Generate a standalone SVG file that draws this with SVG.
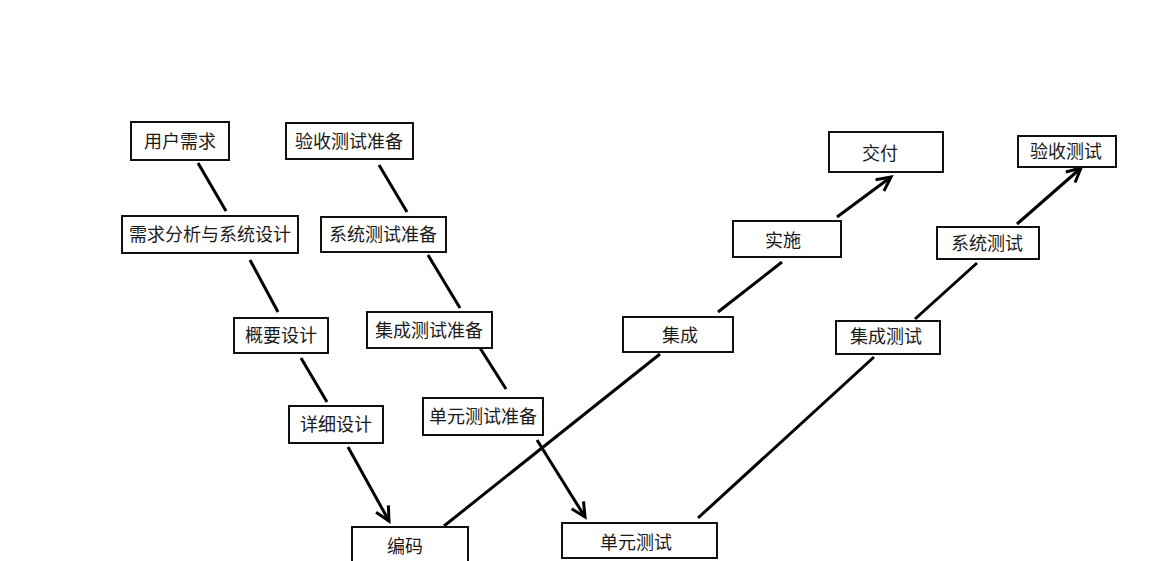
<svg xmlns="http://www.w3.org/2000/svg" width="1164" height="561" viewBox="0 0 1164 561">
<style>
.b rect{fill:#fff;stroke:#111;stroke-width:2}
.b text{font-family:"Noto Sans CJK SC","Microsoft YaHei",sans-serif;font-size:18px;fill:#1a1a1a;text-anchor:middle;dominant-baseline:central}
.c line{stroke:#000;stroke-width:3;stroke-linecap:butt}
</style>
<defs>
<marker id="ah" markerUnits="userSpaceOnUse" markerWidth="30" markerHeight="30" refX="0" refY="0" viewBox="-20 -15 30 30" orient="auto" overflow="visible">
<path d="M-14,-7 L0,0 L-14,7" fill="none" stroke="#000" stroke-width="3" stroke-linejoin="miter"/>
</marker>
</defs>
<rect width="1164" height="561" fill="#fff"/>
<g class="c" id="connectors">
<line x1="198" y1="163" x2="226" y2="211"/>
<line x1="250" y1="260" x2="278" y2="312"/>
<line x1="301" y1="358" x2="327" y2="402"/>
<line x1="348" y1="447" x2="389" y2="521" marker-end="url(#ah)"/>
<line x1="379" y1="165" x2="407" y2="212"/>
<line x1="428" y1="255" x2="460" y2="308"/>
<line x1="480" y1="348" x2="506" y2="389"/>
<line x1="537" y1="440" x2="585" y2="517" marker-end="url(#ah)"/>
<line x1="444" y1="526" x2="660" y2="354"/>
<line x1="718" y1="312" x2="782" y2="262"/>
<line x1="837" y1="217" x2="891" y2="177" marker-end="url(#ah)"/>
<line x1="698" y1="518" x2="874" y2="357"/>
<line x1="915" y1="319" x2="977" y2="263"/>
<line x1="1017" y1="224" x2="1081" y2="168" marker-end="url(#ah)"/>
</g>
<g class="b" id="n1"><rect x="131" y="122" width="98" height="38"/><text x="180" y="139.5">用户需求</text></g>
<g class="b" id="n2"><rect x="122" y="216" width="176" height="37"/><text x="210" y="232.5">需求分析与系统设计</text></g>
<g class="b" id="n3"><rect x="234" y="318" width="94" height="35"/><text x="281" y="333.5">概要设计</text></g>
<g class="b" id="n4"><rect x="289" y="406" width="94" height="37"/><text x="336" y="422.5">详细设计</text></g>
<g class="b" id="n5"><rect x="352" y="527" width="116" height="40"/><text x="405" y="544.5">编码</text></g>
<g class="b" id="n6"><rect x="286" y="123" width="127" height="36"/><text x="349" y="139.5">验收测试准备</text></g>
<g class="b" id="n7"><rect x="321" y="217" width="125" height="35"/><text x="383" y="232.5">系统测试准备</text></g>
<g class="b" id="n8"><rect x="367" y="312" width="125" height="36"/><text x="429" y="328.5">集成测试准备</text></g>
<g class="b" id="n9"><rect x="423" y="398" width="120" height="37"/><text x="483" y="414.5">单元测试准备</text></g>
<g class="b" id="n10"><rect x="562" y="523" width="155" height="35"/><text x="636" y="540.5">单元测试</text></g>
<g class="b" id="n11"><rect x="623" y="317" width="110" height="35"/><text x="680" y="333.5">集成</text></g>
<g class="b" id="n12"><rect x="733" y="221" width="108" height="36"/><text x="783" y="238.5">实施</text></g>
<g class="b" id="n13"><rect x="829" y="132" width="114" height="40"/><text x="880" y="151.5">交付</text></g>
<g class="b" id="n14"><rect x="836" y="321" width="104" height="33"/><text x="886" y="334.5">集成测试</text></g>
<g class="b" id="n15"><rect x="937" y="227" width="102" height="32"/><text x="987" y="241.5">系统测试</text></g>
<g class="b" id="n16"><rect x="1018" y="136" width="98" height="31"/><text x="1066" y="149.5">验收测试</text></g>
</svg>
